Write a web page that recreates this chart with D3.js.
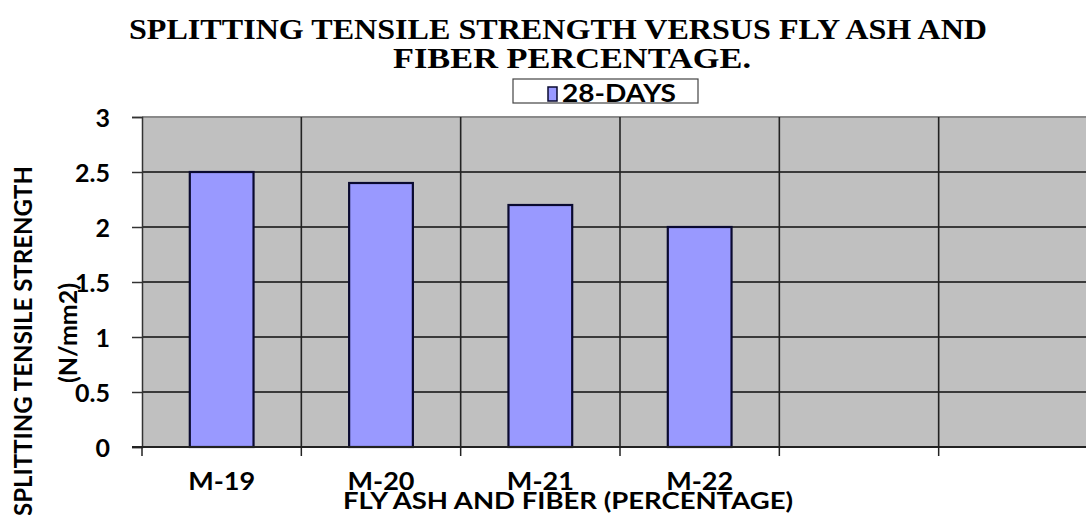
<!DOCTYPE html>
<html><head><meta charset="utf-8">
<script src="https://cdn.jsdelivr.net/npm/d3@7"></script>
<style>
html,body{margin:0;padding:0;background:#fff;overflow:hidden;}
svg{display:block;}
text{font-family:Lato,"Open Sans",sans-serif;font-weight:bold;fill:#000;}
</style></head>
<body>
<script>
const categories = ["M-19","M-20","M-21","M-22","",""];
const values28 = [2.5, 2.4, 2.2, 2.0];
const seriesName = "28-DAYS";
const yTicks = [0, 0.5, 1, 1.5, 2, 2.5, 3];
const titleLines = ["SPLITTING TENSILE  STRENGTH  VERSUS FLY ASH AND", "FIBER PERCENTAGE."];
const xTitle = "FLY ASH AND FIBER (PERCENTAGE)";
const yTitle = ["SPLITTING TENSILE STRENGTH", "(N/mm2)"];

(function () {
const W = 1086, H = 515;
const svg = d3.select("body").append("svg").attr("width", W).attr("height", H);

const pL = 142, pT = 117, pB = 447, pR = 1098;
const x = d3.scaleBand().domain(d3.range(categories.length)).range([pL, pR]).padding(0);
const y = d3.scaleLinear().domain([0, 3]).range([pB, pT]);

// plot background
svg.append("rect").attr("x", pL).attr("y", pT).attr("width", pR - pL).attr("height", pB - pT).attr("fill", "#C0C0C0");

// horizontal gridlines
svg.append("g").selectAll("line").data(yTicks.filter(d => d > 0)).join("line")
  .attr("x1", pL).attr("x2", pR)
  .attr("y1", d => y(d)).attr("y2", d => y(d))
  .attr("stroke", d => d === 3 ? "#8a8a8a" : "#3a3a3a").attr("stroke-width", 2);

// vertical gridlines at band boundaries
const bounds = d3.range(1, categories.length).map(i => x(i));
svg.append("g").selectAll("line").data(bounds).join("line")
  .attr("x1", d => d).attr("x2", d => d)
  .attr("y1", pT).attr("y2", pB)
  .attr("stroke", "#222").attr("stroke-width", 1.6);

// bars
const bw = x.bandwidth() * 0.4;
svg.append("g").selectAll("rect").data(values28).join("rect")
  .attr("x", (d, i) => x(i) + (x.bandwidth() - bw) / 2)
  .attr("y", d => y(d))
  .attr("width", bw)
  .attr("height", d => y(0) - y(d))
  .attr("fill", "#9999FF").attr("stroke", "#0a0a30").attr("stroke-width", 2.2);

// y axis
const yAxis = svg.append("g").attr("transform", `translate(${pL},0)`)
  .call(d3.axisLeft(y).tickValues(yTicks).tickSize(10).tickPadding(22).tickFormat(d => String(d)));
yAxis.select(".domain").attr("stroke", "#333").attr("stroke-width", 1.5);
yAxis.selectAll(".tick line").attr("stroke", "#333").attr("stroke-width", 1.5);
yAxis.selectAll(".tick text").attr("font-size", 25).attr("font-family", "Lato,sans-serif").attr("font-weight", "bold").attr("fill", "#000").attr("dy", "0.36em");

// x axis
const xAxis = svg.append("g").attr("transform", `translate(0,${pB})`)
  .call(d3.axisBottom(x).tickSize(0).tickPadding(0).tickFormat(i => categories[i]));
xAxis.select(".domain").remove();
xAxis.selectAll(".tick text").attr("font-size", 25).attr("font-family", "Lato,sans-serif").attr("font-weight", "bold").attr("fill", "#000")
  .attr("y", 43).attr("dy", null)
  .each(function (i) { if (categories[i]) d3.select(this).attr("textLength", 67).attr("lengthAdjust", "spacingAndGlyphs"); });
svg.append("line").attr("x1", pL - 10).attr("x2", pR).attr("y1", pB).attr("y2", pB).attr("stroke", "#222").attr("stroke-width", 2);
const xb = d3.range(0, categories.length).map(i => x(i));
svg.append("g").selectAll("line").data(xb).join("line")
  .attr("x1", d => d).attr("x2", d => d).attr("y1", pB).attr("y2", pB + 9)
  .attr("stroke", "#222").attr("stroke-width", 1.5);

// titles
svg.append("text").attr("x", 558).attr("y", 39).attr("text-anchor", "middle")
  .style("font-family", "'Liberation Serif','Times New Roman',serif").attr("font-size", 29)
  .attr("textLength", 858).attr("lengthAdjust", "spacingAndGlyphs").text(titleLines[0]);
svg.append("text").attr("x", 572).attr("y", 68).attr("text-anchor", "middle")
  .style("font-family", "'Liberation Serif','Times New Roman',serif").attr("font-size", 29)
  .attr("textLength", 358).attr("lengthAdjust", "spacingAndGlyphs").text(titleLines[1]);

svg.append("text").attr("x", 568).attr("y", 509).attr("text-anchor", "middle")
  .attr("font-size", 23).attr("textLength", 450).attr("lengthAdjust", "spacingAndGlyphs").text(xTitle);

svg.append("text").attr("transform", "translate(32,341) rotate(-90)").attr("text-anchor", "middle")
  .attr("font-size", 24).attr("textLength", 350).attr("lengthAdjust", "spacingAndGlyphs").text(yTitle[0]);
svg.append("text").attr("transform", "translate(77,333) rotate(-90)").attr("text-anchor", "middle")
  .attr("font-size", 25).attr("textLength", 100).attr("lengthAdjust", "spacingAndGlyphs").text(yTitle[1]);

// legend
const lg = svg.append("g");
lg.append("rect").attr("x", 513).attr("y", 79).attr("width", 185).attr("height", 24)
  .attr("fill", "#fff").attr("stroke", "#444").attr("stroke-width", 1.2);
lg.append("rect").attr("x", 548).attr("y", 87).attr("width", 9).attr("height", 14)
  .attr("fill", "#9999FF").attr("stroke", "#0a0a30").attr("stroke-width", 1.5);
lg.append("text").attr("x", 562).attr("y", 102).attr("font-size", 24)
  .attr("textLength", 114).attr("lengthAdjust", "spacingAndGlyphs").text(seriesName);
})();
</script>
</body></html>
